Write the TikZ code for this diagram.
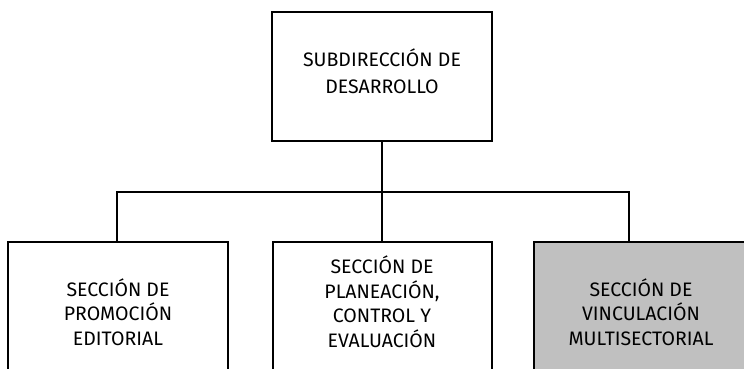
\documentclass[tikz,border=0pt]{standalone}
\usepackage{fontspec}
\setmainfont{Fira Sans}
\begin{document}
\begin{tikzpicture}[x=1pt,y=-1pt,
  box/.style={draw=black,line width=1.6pt},
  conn/.style={draw=black,line width=1.6pt},
  lbl/.style={align=center,inner sep=0pt,anchor=base,font=\fontsize{19.5}{24.5}\selectfont},
  lbltop/.style={lbl,font=\fontsize{19.5}{27}\selectfont}]
\useasboundingbox (0,0) rectangle (744,368);
\begin{scope}
\clip (0,0) rectangle (744,368);
\path[box] (272,12) rectangle (492,141);
\coordinate (topc) at (382,141);
\path[box] (8,242) rectangle (228,400);
\path[box] (273,242) rectangle (492,400);
\path[box,fill={rgb,255:red,192;green,192;blue,192}] (534,242) rectangle (748,400);
\end{scope}
\coordinate (bl) at (117,192);
\coordinate (bm) at (382,192);
\coordinate (br) at (629,192);
\coordinate (lt) at (117,242);
\coordinate (mt) at (382,242);
\coordinate (rt) at (629,242);
\draw[conn] (topc) -- (bm);
\draw[conn,line cap=rect] (lt) -- (bl) -- (br) -- (rt);
\draw[conn] (bm) -- (mt);
\node[lbltop] (t) at (382,93) {SUBDIRECCIÓN DE\\DESARROLLO};
\node[lbl] (l) at (118,345) {SECCIÓN DE\\PROMOCIÓN\\EDITORIAL};
\node[lbl] (m) at (382,347) {SECCIÓN DE\\PLANEACIÓN,\\CONTROL Y\\EVALUACIÓN};
\node[lbl] (r) at (641,345) {SECCIÓN DE\\VINCULACIÓN\\MULTISECTORIAL};
\end{tikzpicture}
\end{document}
